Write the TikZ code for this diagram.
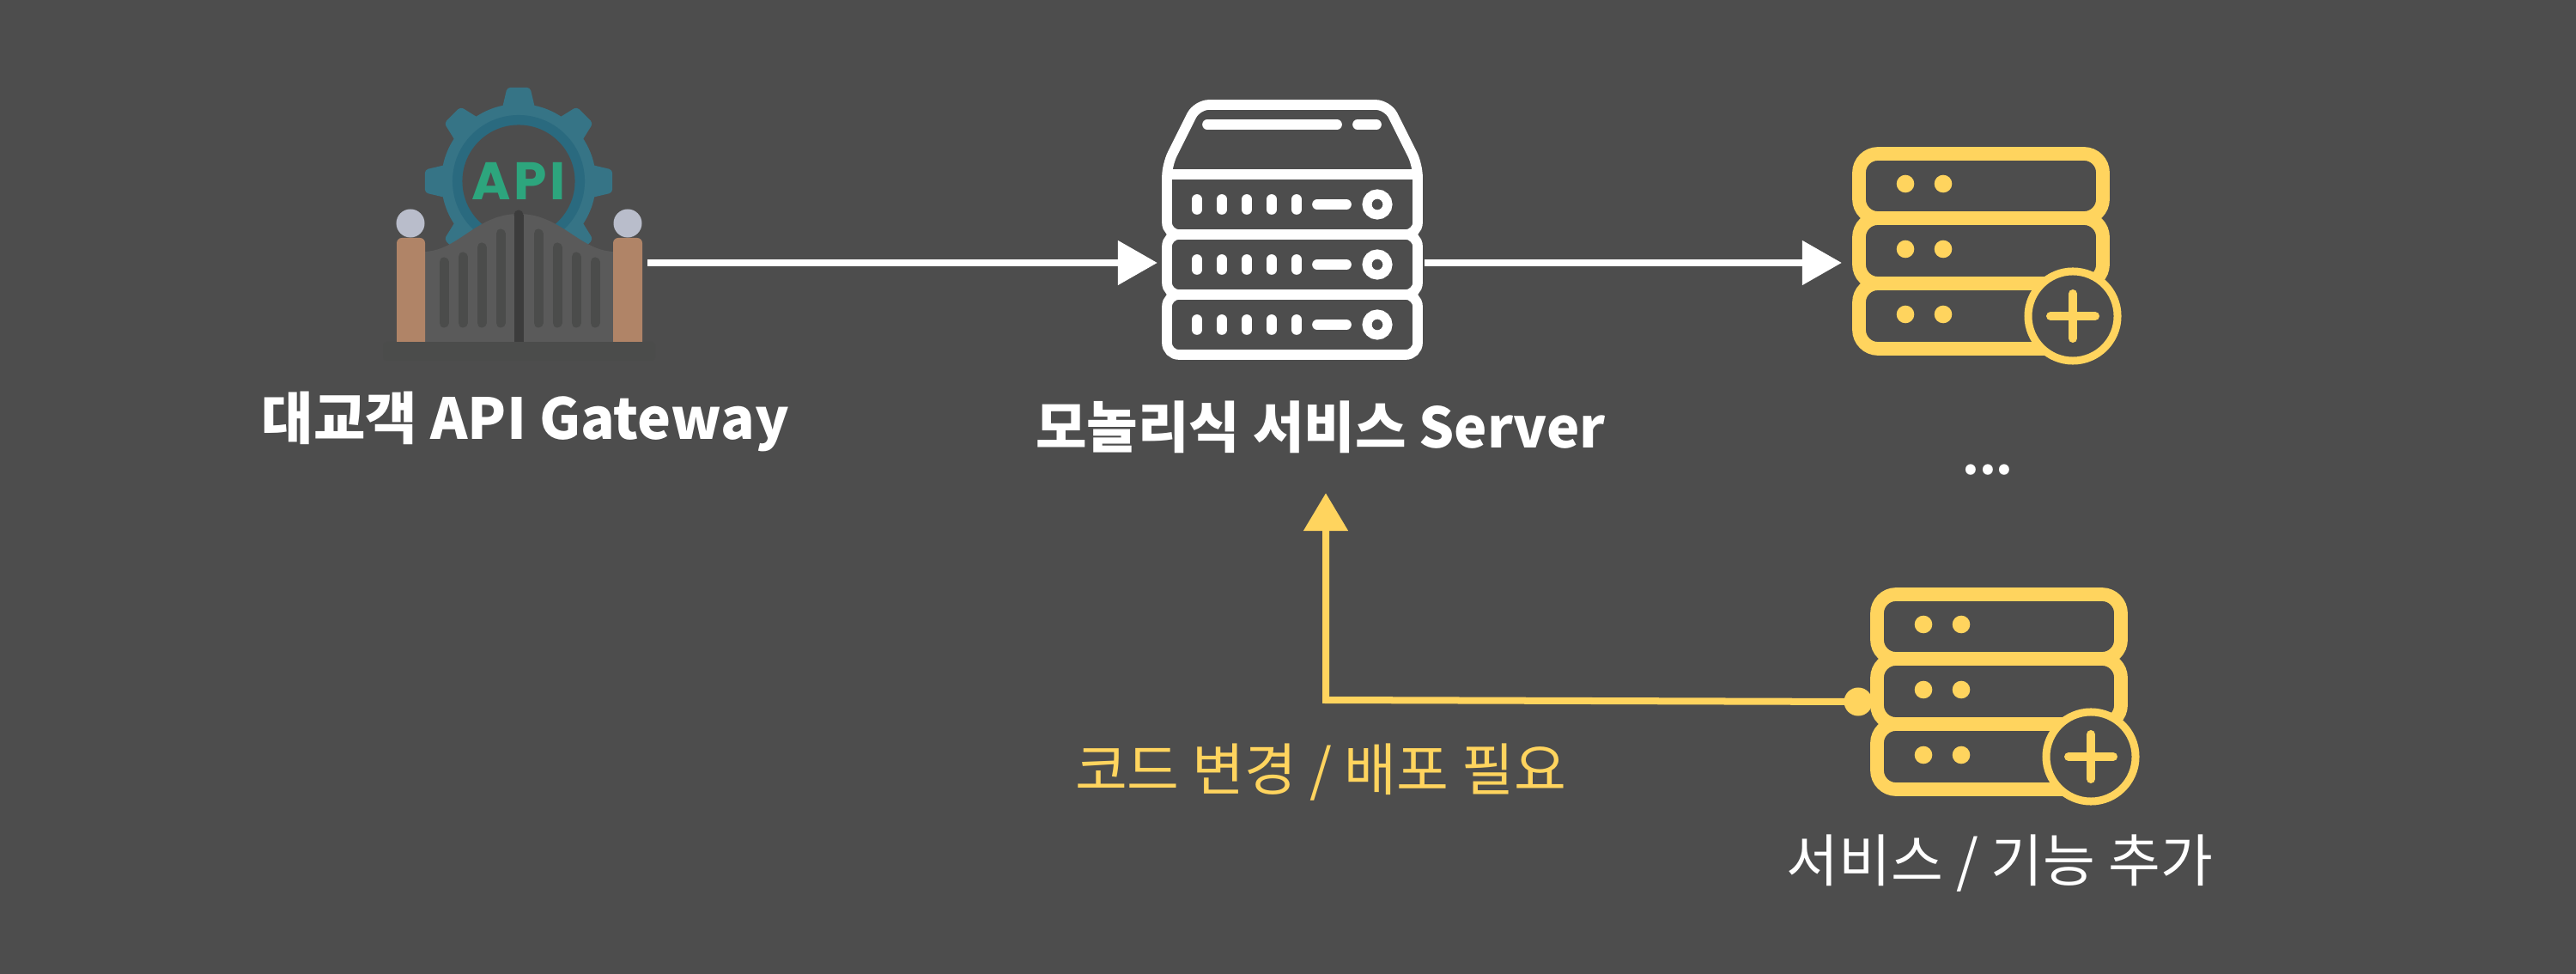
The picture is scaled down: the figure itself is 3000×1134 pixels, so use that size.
\documentclass[tikz,border=0pt]{standalone}
\usepackage{fontspec}
\setmainfont{Noto Sans CJK KR}
\newfontfamily\apifont{Poppins}
\usetikzlibrary{arrows.meta,calc}
\definecolor{bgcol}{HTML}{4D4D4D}
\definecolor{stackcol}{HTML}{FFD45E}
\definecolor{gearcol}{HTML}{367486}
\definecolor{ringcol}{HTML}{2A6A7F}
\definecolor{apicol}{HTML}{2DA57D}
\definecolor{panelcol}{HTML}{5A5A5A}
\definecolor{barcol}{HTML}{4B4C4B}
\definecolor{midcol}{HTML}{3C3C3C}
\definecolor{postcol}{HTML}{B08467}
\definecolor{ballcol}{HTML}{B9BDCB}
\tikzset{
  iconbox/.style={inner sep=0pt,outer sep=0pt},
  boldlabel/.style={text=white,font=\fontsize{18.7}{22}\selectfont\bfseries},
  thinlabel/.style={font=\fontsize{18.8}{22}\selectfont},
  mainarrow/.style={draw=white,line width=.08cm,-{Triangle[length=.46cm,width=.5cm]}},
  addarrow/.style={draw=stackcol,line width=.08cm,miter limit=10,-{Triangle[length=.44cm,width=.5cm]}},
  serverline/.style={draw=white,line width=.117cm},
  pics/dbstack/.style={code={
    \foreach \t/\b in {8/83,83/159,159/235}
      \draw[stackcol,line width=.157cm,rounded corners=.22cm] (8,\t) rectangle (292,\b);
    \foreach \y in {43,119,195}
      \foreach \x in {62,106}
        \fill[stackcol] (\x,\y) circle (.103cm);
    \draw[stackcol,fill=bgcol,line width=.09cm] (257,197) circle (.52cm);
    \draw[stackcol,line width=.1cm,line cap=round] (231,197) -- (283,197) (257,171) -- (257,223);
  }}
}
\begin{document}
\begin{tikzpicture}[x=.01cm,y=-.01cm]
\fill[bgcol] (0,0) rectangle (3000,1134);
\useasboundingbox (0,0) rectangle (3000,1134);

%gateway icon:
\foreach \a in {0,45,...,315}
  \fill[gearcol,rounded corners=.04cm] ($(604,211)+(\a-13:86)$) -- ($(604,211)+(\a-7:110)$) -- ($(604,211)+(\a+7:110)$) -- ($(604,211)+(\a+13:86)$) -- cycle;
\fill[gearcol] (604,211) circle (.9cm);
\fill[ringcol] (604,211) circle (.77cm);
\fill[bgcol] (604,211) circle (.655cm);
\node (api) at (604,211) [text=apicol,font=\apifont\fontsize{17.5}{20}\selectfont\bfseries] {\addfontfeatures{LetterSpace=6}API};
\fill[barcol,rounded corners=.04cm] (446,398) rectangle (763,420);
\fill[panelcol] (495,398) -- (495,293) .. controls (535,291) and (555,249) .. (604,249) .. controls (653,249) and (674,291) .. (714,293) -- (714,398) -- cycle;
\foreach \x/\t in {517/305,539/299,561/288,583/272,627/272,649/288,671/299,693/305}
  \draw[barcol,line width=.11cm,line cap=round] (\x,\t) -- (\x,376);
\draw[midcol,line width=.11cm] (604,398) -- (604,250);
\fill[midcol] (604,250) circle (.055cm);
\fill[postcol] (462,398) -- (462,283) arc (180:270:6) -- (489,277) arc (270:360:6) -- (495,398) -- cycle;
\fill[postcol] (714,398) -- (714,283) arc (180:270:6) -- (742,277) arc (270:360:6) -- (748,398) -- cycle;
\fill[ballcol] (478,260) circle (.165cm);
\fill[ballcol] (731,260) circle (.165cm);
\node (gateway) at (604,306) [iconbox,minimum width=3cm,minimum height=1cm] {};
\node (gatewaylabel) at (612,491) [boldlabel] {대교객 API Gateway};

%server icon:
\draw[serverline,rounded corners=.14cm] (1505,122) -- (1616,122) -- (1651,192) -- (1651,273) -- (1359,273) -- (1359,192) -- (1394,122) -- cycle;
\draw[serverline] (1359,203) -- (1651,203);
\foreach \t/\b in {273/343,343/413}
  \draw[serverline,rounded corners=.14cm] (1359,\t) rectangle (1651,\b);
\draw[serverline,line cap=round] (1406,145) -- (1557,145) (1581,145) -- (1603,145);
\foreach \y in {238,308,378}{
  \foreach \x in {1394,1423,1452,1481,1510}
    \draw[serverline,line cap=round] (\x,\y-6) -- (\x,\y+6);
  \draw[serverline,line cap=round] (1534,\y) -- (1568,\y);
  \draw[draw=white,line width=.11cm] (1604,\y) circle (.12cm);
}
\node (server) at (1503.5,306) [iconbox,minimum width=3.11cm,minimum height=1cm] {};
\node (serverlabel) at (1538,497) [boldlabel,font=\fontsize{18.4}{22}\selectfont\bfseries] {모놀리식 서비스 Server};
\coordinate (serverdown) at (1544,574);

%service stacks:
\pic at (2157,171) {dbstack};
\pic at (2178,684) {dbstack};
\node (stack) at (2300,306) [iconbox,minimum width=3.1cm,minimum height=1cm] {};
\node (dots) at (2315,547) [boldlabel,font=\fontsize{16}{20}\selectfont\bfseries] {...};
\node (addlabel) at (2329,1005) [thinlabel,text=white] {서비스 / 기능 추가};
\node (changelabel) at (1538,899) [thinlabel,text=stackcol] {코드 변경 / 배포 필요};
\node (adddot) at (2164,817) [circle,fill=stackcol,minimum size=.33cm,inner sep=0pt] {};
\coordinate (turn) at (1544,815);

\draw[mainarrow] (gateway.east) -- (server.west);
\draw[mainarrow] (server.east) -- (stack.west);
\draw[addarrow] (adddot.center) -- (turn) -- (serverdown);
\end{tikzpicture}
\end{document}
